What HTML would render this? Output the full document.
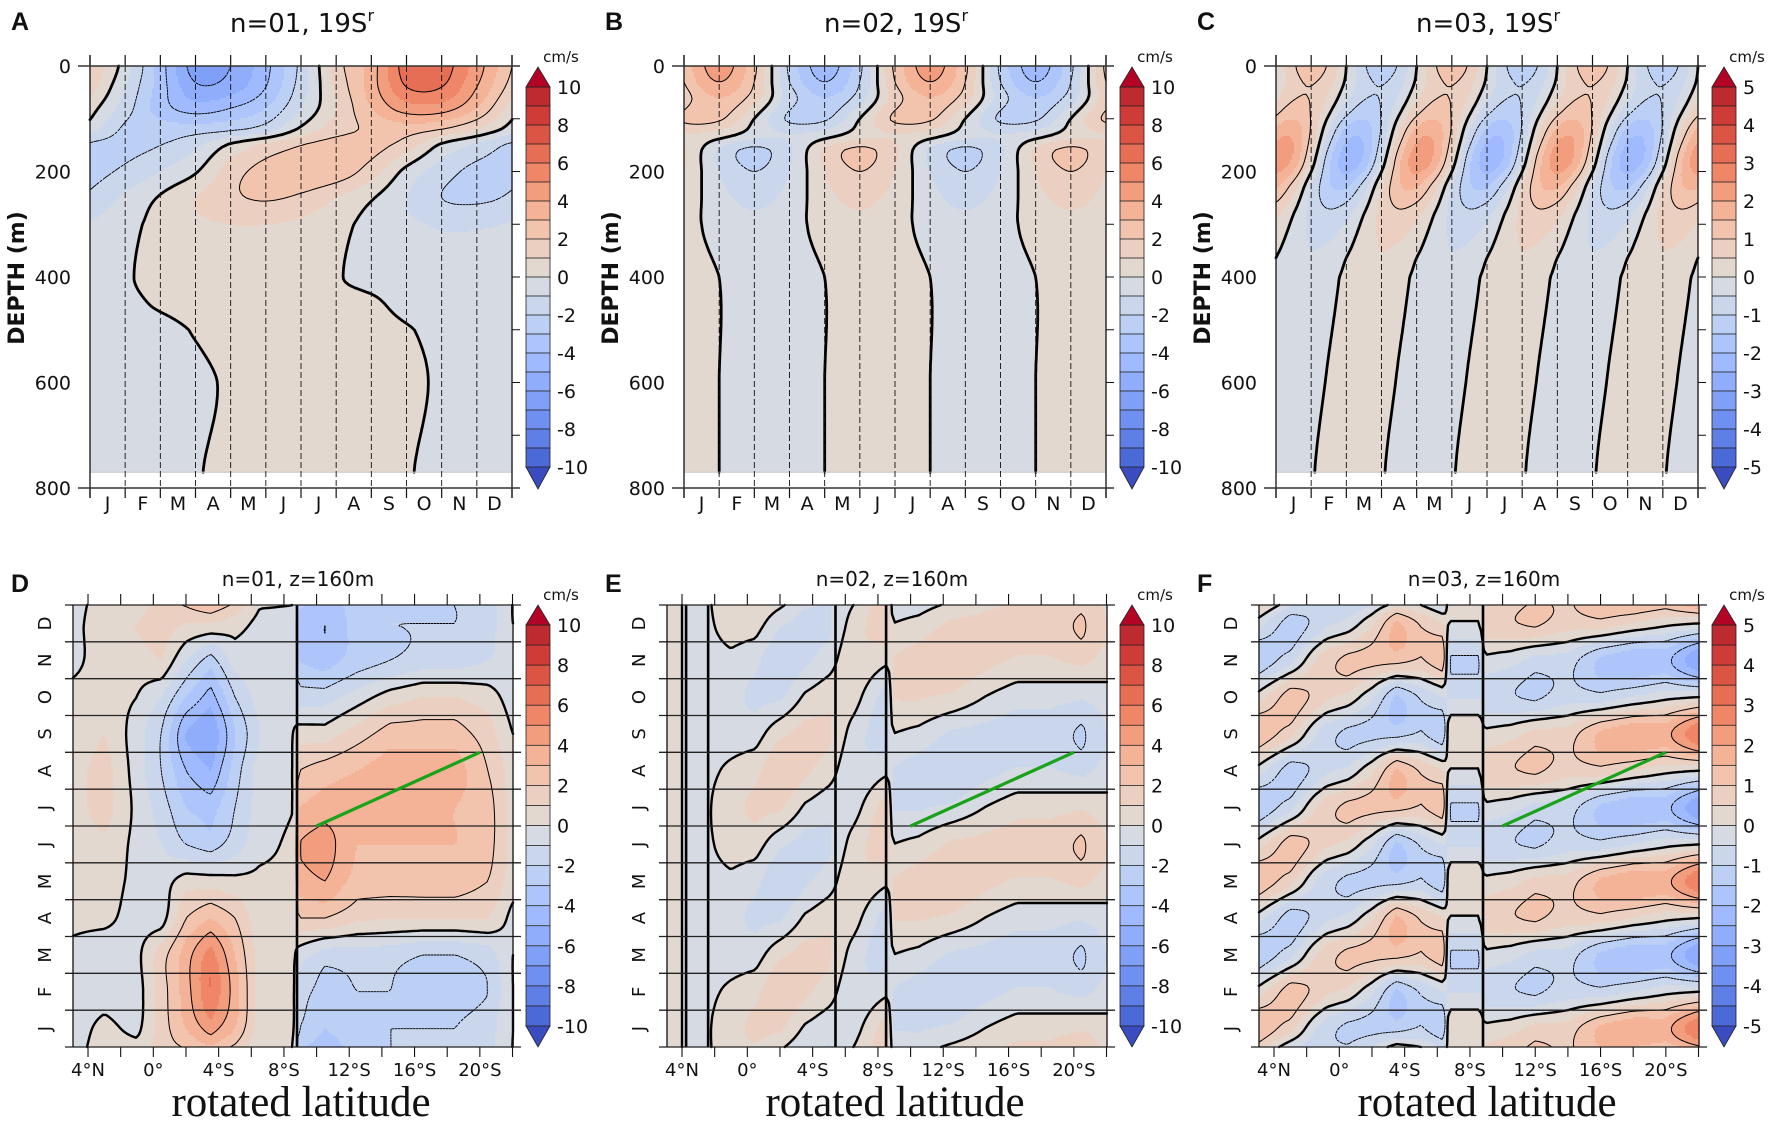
<!DOCTYPE html>
<html>
<head>
<meta charset="utf-8">
<style>
html,body{margin:0;padding:0;background:#fff;}
svg{display:block;}
text{font-family:"DejaVu Sans","Liberation Sans",sans-serif;fill:#111;}
</style>
</head>
<body>
<svg id="fig" width="1772" height="1121" viewBox="0 0 1772 1121" xmlns="http://www.w3.org/2000/svg">
<rect x="0" y="0" width="1772" height="1121" fill="#ffffff"/>
</svg>
<script>
// ---------------- DATA ----------------
const monthLabels = ['J','F','M','A','M','J','J','A','S','O','N','D'];
const depthTicks = [0,200,400,600,800];
const cbTicks10 = [10,8,6,4,2,0,-2,-4,-6,-8,-10];
const cbTicks5 = [5,4,3,2,1,0,-1,-2,-3,-4,-5];
const latTicks = [-4,-2,0,2,4,6,8,10,12,14,16,18,20,22];
const latLabelVals = [-4,0,4,8,12,16,20];
const latLabelText = ['4°N','0°','4°S','8°S','12°S','16°S','20°S'];
const greenLat = [10,20];
const greenMonth = [6.0,8.0];

// Panel A: depth rows x month columns (x = 0..11)
const A_depth = [0,40,80,120,150,200,250,300,400,450,500,600,770];
const A_vals = [
 [2,-0.5,-3.5,-6.5,-6,-4.3,-1.7,1.5,3.5,6.5,6.5,4.5],
 [1.5,-1,-3.5,-5.8,-5.5,-4,-1.5,1.2,3.5,6,6,4],
 [0.5,-1.5,-3.5,-4.5,-4,-3,-1,1,3,4.5,4.5,3],
 [-0.5,-2.2,-2.5,-2.5,-2.2,-1.5,0.2,1.5,2.2,2.5,2,1],
 [-2.2,-2.3,-2,-1.2,0.2,1.2,2,2.5,2.4,1.5,-0.2,-1.2],
 [-2.3,-1.8,-1,-0.1,1.5,2.4,2.8,2.6,1.5,-0.3,-1.5,-2.3],
 [-1.8,-0.8,0.1,1,1.8,2.1,1.8,1,0.1,-1,-2,-2.2],
 [-0.9,-0.3,0.3,0.8,1,1,0.8,0.3,-0.3,-0.8,-1.1,-1.1],
 [-0.4,-0.1,0.3,0.4,0.4,0.4,0.3,0.05,-0.2,-0.4,-0.4,-0.4],
 [-0.4,-0.2,0.1,0.3,0.3,0.3,0.3,0.2,0.1,-0.2,-0.4,-0.4],
 [-0.4,-0.3,-0.2,0.05,0.3,0.3,0.3,0.3,0.2,0.05,-0.2,-0.4],
 [-0.3,-0.3,-0.2,-0.15,0.1,0.3,0.3,0.3,0.2,0.15,-0.1,-0.3],
 [-0.3,-0.3,-0.2,-0.05,0.2,0.3,0.3,0.3,0.2,0.05,-0.2,-0.3]
];
// Panel B
const B_depth = [0,30,60,100,130,160,200,250,300,400,600,770];
const B_vals = [
 [2.25,4.5,2.25,-2.25,-4.5,-2.25,2.25,4.5,2.25,-2.25,-4.5,-2.25],
 [2,4,2,-2,-4,-2,2,4,2,-2,-4,-2],
 [1.5,3,1.5,-1.5,-3,-1.5,1.5,3,1.5,-1.5,-3,-1.5],
 [2.2,2.2,0,-2.2,-2.2,0,2.2,2.2,0,-2.2,-2.2,0],
 [1,0.5,-0.5,-1,-0.5,0.5,1,0.5,-0.5,-1,-0.5,0.5],
 [1.15,-1.15,-2.3,-1.15,1.15,2.3,1.15,-1.15,-2.3,-1.15,1.15,2.3],
 [1,-1,-2,-1,1,2,1,-1,-2,-1,1,2],
 [0.65,-0.65,-1.3,-0.65,0.65,1.3,0.65,-0.65,-1.3,-0.65,0.65,1.3],
 [0.35,-0.35,-0.7,-0.35,0.35,0.7,0.35,-0.35,-0.7,-0.35,0.35,0.7],
 [0.43,0,-0.43,-0.43,0,0.43,0.43,0,-0.43,-0.43,0,0.43],
 [0.43,0,-0.43,-0.43,0,0.43,0.43,0,-0.43,-0.43,0,0.43],
 [0.43,0,-0.43,-0.43,0,0.43,0.43,0,-0.43,-0.43,0,0.43]
];
// Panel C (half-month columns)
const C_depth = [0,40,80,130,180,230,280,350,400,600,770];
const C_vals = [
 [0,0.92,1.3,0.92,0,-0.92,-1.3,-0.92, 0,0.92,1.3,0.92,0,-0.92,-1.3,-0.92, 0,0.92,1.3,0.92,0,-0.92,-1.3,-0.92],
 [0.16,0.81,0.99,0.59,-0.16,-0.81,-0.99,-0.59, 0.16,0.81,0.99,0.59,-0.16,-0.81,-0.99,-0.59, 0.16,0.81,0.99,0.59,-0.16,-0.81,-0.99,-0.59],
 [0.71,1.19,0.97,0.19,-0.71,-1.19,-0.97,-0.19, 0.71,1.19,0.97,0.19,-0.71,-1.19,-0.97,-0.19, 0.71,1.19,0.97,0.19,-0.71,-1.19,-0.97,-0.19],
 [1.78,1.9,0.9,-0.62,-1.78,-1.9,-0.9,0.62, 1.78,1.9,0.9,-0.62,-1.78,-1.9,-0.9,0.62, 1.78,1.9,0.9,-0.62,-1.78,-1.9,-0.9,0.62],
 [2.28,1.86,0.37,-1.36,-2.28,-1.86,-0.37,1.36, 2.28,1.86,0.37,-1.36,-2.28,-1.86,-0.37,1.36, 2.28,1.86,0.37,-1.36,-2.28,-1.86,-0.37,1.36],
 [1.52,0.72,-0.5,-1.42,-1.52,-0.72,0.5,1.42, 1.52,0.72,-0.5,-1.42,-1.52,-0.72,0.5,1.42, 1.52,0.72,-0.5,-1.42,-1.52,-0.72,0.5,1.42],
 [0.64,0,-0.64,-0.9,-0.64,0,0.64,0.9, 0.64,0,-0.64,-0.9,-0.64,0,0.64,0.9, 0.64,0,-0.64,-0.9,-0.64,0,0.64,0.9],
 [0.08,-0.3,-0.5,-0.4,-0.08,0.3,0.5,0.4, 0.08,-0.3,-0.5,-0.4,-0.08,0.3,0.5,0.4, 0.08,-0.3,-0.5,-0.4,-0.08,0.3,0.5,0.4],
 [-0.12,-0.36,-0.38,-0.18,0.12,0.36,0.38,0.18, -0.12,-0.36,-0.38,-0.18,0.12,0.36,0.38,0.18, -0.12,-0.36,-0.38,-0.18,0.12,0.36,0.38,0.18],
 [-0.32,-0.4,-0.24,0.06,0.32,0.4,0.24,-0.06, -0.32,-0.4,-0.24,0.06,0.32,0.4,0.24,-0.06, -0.32,-0.4,-0.24,0.06,0.32,0.4,0.24,-0.06],
 [-0.4,-0.32,-0.06,0.24,0.4,0.32,0.06,-0.24, -0.4,-0.32,-0.06,0.24,0.4,0.32,0.06,-0.24, -0.4,-0.32,-0.06,0.24,0.4,0.32,0.06,-0.24]
];
// Panel D: month rows (Jan..Dec) x latitude columns (positive = south)
const D_lat = [-5,-3,-1,0.5,2,3.5,5,6.5,8.6,8.9,10.5,12.5,14.5,16.5,18.5,20.5,22];
const D_vals = [
 [-0.5,0.3,-0.3,1.5,3,4.5,3,0.5,0.3,-2,-3,-2.5,-2,-2,-2,-1.5,0],
 [-0.5,-0.5,-0.5,1.5,3.5,6,3.5,0.5,0.3,-1.5,-2.5,-2,-2,-2.5,-2.5,-2,0],
 [-0.3,-0.8,-0.3,1.5,3.5,5.5,3,0.5,0.2,-0.5,-1.5,-1.5,-1.5,-2,-2,-1.5,0],
 [0.3,0.3,-0.5,-0.5,2,3,2,0.3,0.2,2,2,1.2,1,1,1,1,-0.3],
 [0.5,0.5,-0.3,-0.5,0.5,0.5,0.3,0.2,0.2,3.5,4,2.5,2.5,2.5,2.5,2,0.5],
 [0.5,0.8,-0.3,-1,-2,-2.5,-1.5,-0.3,0.2,4,4.5,3,3,3,3,2.5,0.5],
 [0.5,1.5,-0.3,-1.5,-3,-3.5,-2,-0.5,0,3,3.5,3.5,3.5,3.5,3,2.5,0.5],
 [0.5,1.5,-0.5,-2,-4,-5,-2.5,-0.5,0,2,2.5,3,3.5,3.5,3.5,2,0.5],
 [0.3,1,-0.5,-2,-5,-6,-3,-1,0,0.5,0.5,1.5,2.5,2.5,2.5,1.5,0],
 [0.3,0.5,0,-1,-3,-4.5,-2,-0.5,-0.3,-1.5,-1.5,-0.5,0.5,1,1,0.5,-0.5],
 [-0.3,0.5,0.5,1,-1,-2.5,-0.5,-0.3,-0.3,-3,-3.5,-2.5,-2,-1.5,-1.5,-1,-0.5],
 [-0.3,0.5,1,1.5,1,1,0.5,-0.3,-0.3,-3.5,-4,-2.5,-2,-2,-2,-1.5,0]
];
// Panel E
const E_lat = [-5,-3,-1,0.5,2,3.5,5,6.5,8.6,8.9,10.5,12.5,14.5,16.5,18.5,20.5,22];
const E_vals = [
 [0.5,-0.5,0.78,1.19,1.18,-0.16,-0.71,-0.5,1.62,-1.04,-1.1,-0.81,0,0.61,0.61,0.9,0.41],
 [0.5,-0.5,0.25,0.71,1.99,1.21,0.49,-1,-0.21,-1.04,-1.43,-1.99,-1.3,-0.88,-0.88,-1.3,-0.59],
 [0.5,-0.5,-0.54,-0.49,0.81,1.37,1.19,-0.5,-1.83,0,-0.31,-1.18,-1.3,-1.49,-1.49,-2.18,-0.99],
 [0.5,-0.5,-0.78,-1.19,-1.18,0.16,0.71,0.5,-1.62,1.04,1.1,0.81,0,-0.61,-0.61,-0.9,-0.41],
 [0.5,-0.5,-0.25,-0.71,-1.99,-1.21,-0.49,1,0.21,1.04,1.43,1.99,1.3,0.88,0.88,1.3,0.59],
 [0.5,-0.5,0.54,0.49,-0.81,-1.37,-1.19,0.5,1.83,0,0.31,1.18,1.3,1.49,1.49,2.18,0.99],
 [0.5,-0.5,0.78,1.19,1.18,-0.16,-0.71,-0.5,1.62,-1.04,-1.1,-0.81,0,0.61,0.61,0.9,0.41],
 [0.5,-0.5,0.25,0.71,1.99,1.21,0.49,-1,-0.21,-1.04,-1.43,-1.99,-1.3,-0.88,-0.88,-1.3,-0.59],
 [0.5,-0.5,-0.54,-0.49,0.81,1.37,1.19,-0.5,-1.83,0,-0.31,-1.18,-1.3,-1.49,-1.49,-2.18,-0.99],
 [0.5,-0.5,-0.78,-1.19,-1.18,0.16,0.71,0.5,-1.62,1.04,1.1,0.81,0,-0.61,-0.61,-0.9,-0.41],
 [0.5,-0.5,-0.25,-0.71,-1.99,-1.21,-0.49,1,0.21,1.04,1.43,1.99,1.3,0.88,0.88,1.3,0.59],
 [0.5,-0.5,0.54,0.49,-0.81,-1.37,-1.19,0.5,1.83,0,0.31,1.18,1.3,1.49,1.49,2.18,0.99]
];
// Panel F
const F_lat = [-5,-3,-1.5,-0.8,0.5,2,3.5,5,6.4,6.7,8.6,8.9,10.5,12,14,16,18,20,22];
const F_vals = [
 [1.48,0.68,-0.45,-0.81,-1.14,-1.14,-1.18,-0.92,-1.43,0.46,0.46,0.13,0.31,0.68,0.71,1.6,1.94,1.8,3],
 [0.23,1.34,0.89,0.59,0.37,-0.37,-1.62,-0.92,-0.47,-0.55,-0.55,-0.79,-0.95,-1.1,-0.71,-0.81,-0.47,-0.14,0],
 [-1.48,-0.68,0.45,0.81,1.14,1.14,1.18,0.92,1.43,-1.06,-1.06,-0.13,-0.31,-0.68,-0.71,-1.6,-1.94,-1.8,-3],
 [-0.23,-1.34,-0.89,-0.59,-0.37,0.37,1.62,0.92,0.47,-0.05,-0.05,0.79,0.95,1.1,0.71,0.81,0.47,0.14,0],
 [1.48,0.68,-0.45,-0.81,-1.14,-1.14,-1.18,-0.92,-1.43,0.46,0.46,0.13,0.31,0.68,0.71,1.6,1.94,1.8,3],
 [0.23,1.34,0.89,0.59,0.37,-0.37,-1.62,-0.92,-0.47,-0.55,-0.55,-0.79,-0.95,-1.1,-0.71,-0.81,-0.47,-0.14,0],
 [-1.48,-0.68,0.45,0.81,1.14,1.14,1.18,0.92,1.43,-1.06,-1.06,-0.13,-0.31,-0.68,-0.71,-1.6,-1.94,-1.8,-3],
 [-0.23,-1.34,-0.89,-0.59,-0.37,0.37,1.62,0.92,0.47,-0.05,-0.05,0.79,0.95,1.1,0.71,0.81,0.47,0.14,0],
 [1.48,0.68,-0.45,-0.81,-1.14,-1.14,-1.18,-0.92,-1.43,0.46,0.46,0.13,0.31,0.68,0.71,1.6,1.94,1.8,3],
 [0.23,1.34,0.89,0.59,0.37,-0.37,-1.62,-0.92,-0.47,-0.55,-0.55,-0.79,-0.95,-1.1,-0.71,-0.81,-0.47,-0.14,0],
 [-1.48,-0.68,0.45,0.81,1.14,1.14,1.18,0.92,1.43,-1.06,-1.06,-0.13,-0.31,-0.68,-0.71,-1.6,-1.94,-1.8,-3],
 [-0.23,-1.34,-0.89,-0.59,-0.37,0.37,1.62,0.92,0.47,-0.05,-0.05,0.79,0.95,1.1,0.71,0.81,0.47,0.14,0]
];
const D_disc = [8.8];
const E_disc = [-3.75,-2.4,5.4,8.5];
const F_disc = [8.8];

// ---------------- RENDERING ----------------
const NS = 'http://www.w3.org/2000/svg';
const svg = document.getElementById('fig');
const cbColors = ['#bd2a2f','#cf3c38','#dc5443','#e66e55','#ee8667','#f29d7d','#f4b296','#f2c3ad','#ebd0c1','#e3d8d0','#d6dbe3','#cad6ec','#bccff5','#adc5fb','#9fbafe','#90adfc','#80a0f8','#7090f1','#5f7ee6','#4c69d8'];

function mk(tag, attrs, parent){
  const e = document.createElementNS(NS, tag);
  for (const k in attrs) e.setAttribute(k, attrs[k]);
  parent.appendChild(e);
  return e;
}
function colorFor(v, scale){
  const step = scale/10;
  let idx = Math.floor(v/step);
  if (idx > 9) idx = 9;
  if (idx < -10) idx = -10;
  return cbColors[9 - idx];
}
function cr(p0,p1,p2,p3,t){
  return 0.5*((2*p1)+(-p0+p2)*t+(2*p0-5*p1+4*p2-p3)*t*t+(-p0+3*p1-3*p2+p3)*t*t*t);
}
function makeField(gx, gy, V, px, py, cubX, cubY){
  let X = gx.slice(), Y = gy.slice(), M = V.map(r => r.slice());
  if (px){
    const n = gx.length;
    X = [gx[n-2]-px, gx[n-1]-px].concat(gx, [gx[0]+px, gx[1]+px]);
    M = M.map(r => [r[n-2], r[n-1]].concat(r, [r[0], r[1]]));
  }
  if (py){
    const n = gy.length;
    Y = [gy[n-2]-py, gy[n-1]-py].concat(gy, [gy[0]+py, gy[1]+py]);
    M = [M[n-2], M[n-1]].concat(M, [M[0], M[1]]);
  }
  function locate(A, v){
    let i = 0;
    while (i < A.length-2 && A[i+1] <= v) i++;
    let t = (v - A[i])/(A[i+1]-A[i]);
    if (t < 0) t = 0;
    if (t > 1) t = 1;
    return [i, t];
  }
  function rowInterp(r, i, t, cub){
    const n = r.length;
    if (!cub) return r[i]*(1-t) + r[i+1]*t;
    return cr(r[Math.max(i-1,0)], r[i], r[i+1], r[Math.min(i+2,n-1)], t);
  }
  return function(x, y){
    const [ix, tx] = locate(X, x);
    const [iy, ty] = locate(Y, y);
    const n = M.length;
    if (!cubY){
      return rowInterp(M[iy], ix, tx, cubX)*(1-ty) + rowInterp(M[iy+1], ix, tx, cubX)*ty;
    }
    const a = rowInterp(M[Math.max(iy-1,0)], ix, tx, cubX);
    const b = rowInterp(M[iy], ix, tx, cubX);
    const c = rowInterp(M[iy+1], ix, tx, cubX);
    const d = rowInterp(M[Math.min(iy+2,n-1)], ix, tx, cubX);
    return cr(a,b,c,d,ty);
  };
}
function renderFill(parent, fn, x0, y0, w, h, scale){
  for (let yy = 0; yy < h; yy += 2){
    const hh = Math.min(2, h-yy);
    let runStart = 0, runColor = null;
    const flush = (end) => {
      const r = mk('rect', {x:(x0+runStart).toFixed(1), y:(y0+yy).toFixed(1), width:(end-runStart+0.6).toFixed(1), height:(hh+0.6).toFixed(1), fill:runColor}, parent);
      
      
    };
    for (let xx = 0; xx < w; xx += 2){
      const v = fn(x0+xx+1, y0+yy+hh/2);
      const c = colorFor(v, scale);
      if (c !== runColor){
        if (runColor) flush(xx);
        runStart = xx; runColor = c;
      }
    }
    flush(w);
  }
}
function renderContours(parent, fn, x0, y0, w, h, levels, thick){
  const st = 3;
  const xs = [], ys = [];
  for (let i = 0; i*st < w; i++) xs.push(x0+i*st);
  xs.push(x0+w);
  for (let j = 0; j*st < h; j++) ys.push(y0+j*st);
  ys.push(y0+h);
  const G = ys.map(y => xs.map(x => fn(x, y)));
  levels.forEach(L => {
    let d = '';
    for (let j = 0; j < ys.length-1; j++){
      for (let i = 0; i < xs.length-1; i++){
        const a = G[j][i], b = G[j][i+1], c = G[j+1][i+1], e = G[j+1][i];
        const pts = [];
        const xa = xs[i], xb = xs[i+1], ya = ys[j], yb = ys[j+1];
        if ((a<L) !== (b<L)){ const t=(L-a)/(b-a); pts.push([xa+t*(xb-xa), ya]); }
        if ((b<L) !== (c<L)){ const t=(L-b)/(c-b); pts.push([xb, ya+t*(yb-ya)]); }
        if ((e<L) !== (c<L)){ const t=(L-e)/(c-e); pts.push([xa+t*(xb-xa), yb]); }
        if ((a<L) !== (e<L)){ const t=(L-a)/(e-a); pts.push([xa, ya+t*(yb-ya)]); }
        for (let k = 0; k+1 < pts.length; k += 2){
          d += 'M' + pts[k][0].toFixed(1) + ' ' + pts[k][1].toFixed(1) + 'L' + pts[k+1][0].toFixed(1) + ' ' + pts[k+1][1].toFixed(1);
        }
      }
    }
    if (!d) return;
    const attrs = {d:d, fill:'none', stroke:'#000', 'stroke-linecap':'round'};
    if (L === 0){ attrs['stroke-width'] = thick; }
    else { attrs['stroke-width'] = 1; }
    if (L < 0){ attrs['stroke-dasharray'] = '2.6,1.6'; attrs['stroke-linecap'] = 'butt'; attrs['stroke-width'] = 0.9; }
    const p = mk('path', attrs, parent);
    
    
  });
}
function drawColorbar(parent, cx, apexTop, binTop, binBot, apexBot, scale){
  const g = mk('g', {}, parent);
  
  
  const w = 24, bh = (binBot-binTop)/20;
  for (let i = 0; i < 20; i++){
    const r = mk('rect', {x:cx, y:(binTop+i*bh).toFixed(2), width:w, height:(bh+0.3).toFixed(2), fill:cbColors[i], stroke:'#222', 'stroke-width':0.8}, g);
    
    
  }
  const t1 = mk('polygon', {points:`${cx},${binTop} ${cx+w},${binTop} ${cx+w/2},${apexTop}`, fill:'#b40426', stroke:'#222', 'stroke-width':0.8}, g);
  
  
  const t2 = mk('polygon', {points:`${cx},${binBot} ${cx+w},${binBot} ${cx+w/2},${apexBot}`, fill:'#3a4cc0', stroke:'#222', 'stroke-width':0.8}, g);
  
  
  const ticks = scale === 10 ? cbTicks10 : cbTicks5;
  ticks.forEach(v => {
    const y = binTop + (scale - v)/(2*scale)*(binBot-binTop);
    const t = mk('text', {x:cx+31, y:(y+7).toFixed(1), 'font-size':19}, g);
    t.textContent = v < 0 ? '-' + Math.abs(v) : String(v);
    
    
  });
  const u = mk('text', {x:cx+35, y:apexTop-5, 'font-size':15, 'text-anchor':'middle'}, g);
  u.textContent = 'cm/s';
  
  
}

// ---------- top panels ----------
const topPanels = [
  {letter:'A', n:'01', x0:90, cb:526, scale:10, depths:A_depth, vals:A_vals, levels:[-6,-4,-2,0,2,4,6]},
  {letter:'B', n:'02', x0:684, cb:1120, scale:10, depths:B_depth, vals:B_vals, levels:[-4,-2,0,2,4]},
  {letter:'C', n:'03', x0:1276, cb:1712, scale:5, depths:C_depth, vals:C_vals, levels:[-1,0,1]}
];
topPanels.forEach(p => {
  const g = mk('g', {}, svg);
  
  
  const x0 = p.x0, y0 = 66, w = 422, h = 422;
  const hData = 770/800*h;
  const ncol = p.vals[0].length;
  const gx = p.vals[0].map((_, i) => i*12/ncol);
  const field = makeField(gx, p.depths, p.vals, 12, 0, true, true);
  const fn = (px, py) => field((px-x0)/w*12, (py-y0)/h*800);
  const fillG = mk('g', {}, g);
  
  
  renderFill(fillG, fn, x0, y0, w, hData, p.scale);
  const cg = mk('g', {}, g);
  
  
  renderContours(cg, fn, x0, y0, w, hData, p.levels, 2.8);
  const bl = mk('line', {x1:x0, x2:x0+w, y1:y0+hData, y2:y0+hData, stroke:'#cfcfcf', 'stroke-width':1.2}, g);
  
  
  for (let i = 0; i <= 12; i++){
    const x = x0 + i/12*w;
    if (i > 0 && i < 12){
      const l = mk('line', {x1:x, x2:x, y1:y0, y2:y0+h, stroke:'#111', 'stroke-width':0.9, 'stroke-dasharray':'6,3'}, g);
      
      
    }
    const tt = mk('line', {x1:x, x2:x, y1:y0-11, y2:y0, stroke:'#111', 'stroke-width':1.2}, g);
    
    
    const tb = mk('line', {x1:x, x2:x, y1:y0+h, y2:y0+h+10, stroke:'#111', 'stroke-width':1.2}, g);
    
    
  }
  const fl = mk('line', {x1:x0, x2:x0, y1:y0-11, y2:y0+h+10, stroke:'#111', 'stroke-width':1.3}, g);
  
  
  const fr = mk('line', {x1:x0+w, x2:x0+w, y1:y0-11, y2:y0+h+10, stroke:'#111', 'stroke-width':1.3}, g);
  
  
  const ft = mk('line', {x1:x0-12, x2:x0+w+8, y1:y0, y2:y0, stroke:'#333', 'stroke-width':1.6}, g);
  
  
  const fb = mk('line', {x1:x0-12, x2:x0+w+8, y1:y0+h, y2:y0+h, stroke:'#333', 'stroke-width':1.6}, g);
  
  
  for (let d = 100; d < 800; d += 100){
    const y = y0 + d/800*h;
    const rt = mk('line', {x1:x0+w, x2:x0+w+8, y1:y, y2:y, stroke:'#111', 'stroke-width':1}, g);
    
    
  }
  depthTicks.forEach(d => {
    const y = y0 + d/800*h;
    const t = mk('text', {x:x0-19, y:(y+7).toFixed(1), 'font-size':19, 'text-anchor':'end'}, g);
    t.textContent = String(d);
    
    
  });
  monthLabels.forEach((m, i) => {
    const t = mk('text', {x:(x0+(i+0.5)/12*w).toFixed(1), y:510, 'font-size':19, 'text-anchor':'middle'}, g);
    t.textContent = m;
    
    
  });
  const yt = mk('text', {x:0, y:0, 'font-size':22, 'font-weight':'bold', 'text-anchor':'middle', transform:`translate(${x0-66},${y0+212}) rotate(-90)`}, g);
  yt.textContent = 'DEPTH (m)';
  
  
  const title = mk('text', {x:x0+212, y:32, 'font-size':26, 'text-anchor':'middle'}, g);
  title.textContent = 'n=' + p.n + ', 19S';
  const sup = mk('tspan', {'font-size':16, dy:-11}, title);
  sup.textContent = 'r';
  
  
  const lt = mk('text', {x:x0-79, y:30, 'font-size':25, 'font-weight':'bold', style:'font-family:"Liberation Sans",sans-serif'}, g);
  lt.textContent = p.letter;
  
  
  drawColorbar(g, p.cb, 67, 87, 467, 489, p.scale);
});

// ---------- bottom panels ----------
const sMin = -4.92, sMax = 22.03;
const botPanels = [
  {letter:'D', n:'01', x0:73, cb:526, scale:10, lats:D_lat, vals:D_vals, levels:[-6,-4,-2,0,2,4], disc:D_disc},
  {letter:'E', n:'02', x0:667, cb:1120, scale:10, lats:E_lat, vals:E_vals, levels:[-2,0,2], disc:E_disc},
  {letter:'F', n:'03', x0:1259, cb:1712, scale:5, lats:F_lat, vals:F_vals, levels:[-2,-1,0,1,2], disc:F_disc}
];
const monthCenters = [0.5,1.5,2.5,3.5,4.5,5.5,6.5,7.5,8.5,9.5,10.5,11.5];
botPanels.forEach(p => {
  const g = mk('g', {}, svg);
  
  
  const x0 = p.x0, y0 = 605, w = 440, h = 442, y1 = y0 + h;
  const X = s => x0 + (s - sMin)/(sMax - sMin)*w;
  const Y = m => y1 - m/12*h;
  const field = makeField(p.lats, monthCenters, p.vals, 0, 12, false, true);
  const fn = (px, py) => field(sMin + (px-x0)/w*(sMax-sMin), (y1-py)/h*12);
  const fillG = mk('g', {}, g);
  
  
  renderFill(fillG, fn, x0, y0, w, h, p.scale);
  const cg = mk('g', {}, g);
  
  
  renderContours(cg, fn, x0, y0, w, h, p.levels, 2.4);
  p.disc.forEach(s => {
    const l = mk('line', {x1:X(s), x2:X(s), y1:y0, y2:y1, stroke:'#000', 'stroke-width':2.6}, g);
    
    
  });
  for (let i = 0; i <= 12; i++){
    const y = Y(i);
    const l = mk('line', {x1:x0-8, x2:x0+w+8, y1:y, y2:y, stroke:'#222', 'stroke-width':1.3}, g);
    
    
  }
  const fl = mk('line', {x1:x0, x2:x0, y1:y0, y2:y1, stroke:'#111', 'stroke-width':1.3}, g);
  
  
  const fr = mk('line', {x1:x0+w, x2:x0+w, y1:y0, y2:y1, stroke:'#111', 'stroke-width':1.3}, g);
  
  
  latTicks.forEach(s => {
    const x = X(s);
    const a = mk('line', {x1:x, x2:x, y1:y0-11, y2:y0, stroke:'#111', 'stroke-width':1.1}, g);
    
    
    const b = mk('line', {x1:x, x2:x, y1:y1, y2:y1+10, stroke:'#111', 'stroke-width':1.1}, g);
    
    
  });
  latLabelVals.forEach((s, i) => {
    const t = mk('text', {x:X(s).toFixed(1), y:1076, 'font-size':18, 'text-anchor':'middle'}, g);
    t.textContent = latLabelText[i];
    
    
  });
  monthLabels.forEach((m, i) => {
    const yc = Y(i+0.5);
    const t = mk('text', {x:0, y:0, 'font-size':18, 'text-anchor':'middle', transform:`translate(${x0-22},${yc.toFixed(1)}) rotate(-90)`}, g);
    t.textContent = m;
    
    
  });
  const gl = mk('line', {x1:X(greenLat[0]), y1:Y(greenMonth[0]), x2:X(greenLat[1]), y2:Y(greenMonth[1]), stroke:'#1aa31a', 'stroke-width':3.2}, g);
  
  
  const title = mk('text', {x:x0+225, y:586, 'font-size':20, 'text-anchor':'middle'}, g);
  title.textContent = 'n=' + p.n + ', z=160m';
  
  
  const lt = mk('text', {x:x0-62, y:592, 'font-size':25, 'font-weight':'bold', style:'font-family:"Liberation Sans",sans-serif'}, g);
  lt.textContent = p.letter;
  
  
  const xt = mk('text', {x:x0+228, y:1116, 'font-size':43, 'text-anchor':'middle', style:'font-family:"Liberation Serif",serif'}, g);
  xt.textContent = 'rotated latitude';
  
  
  drawColorbar(g, p.cb, 605, 625, 1026, 1047, p.scale);
});
</script>
</body>
</html>
